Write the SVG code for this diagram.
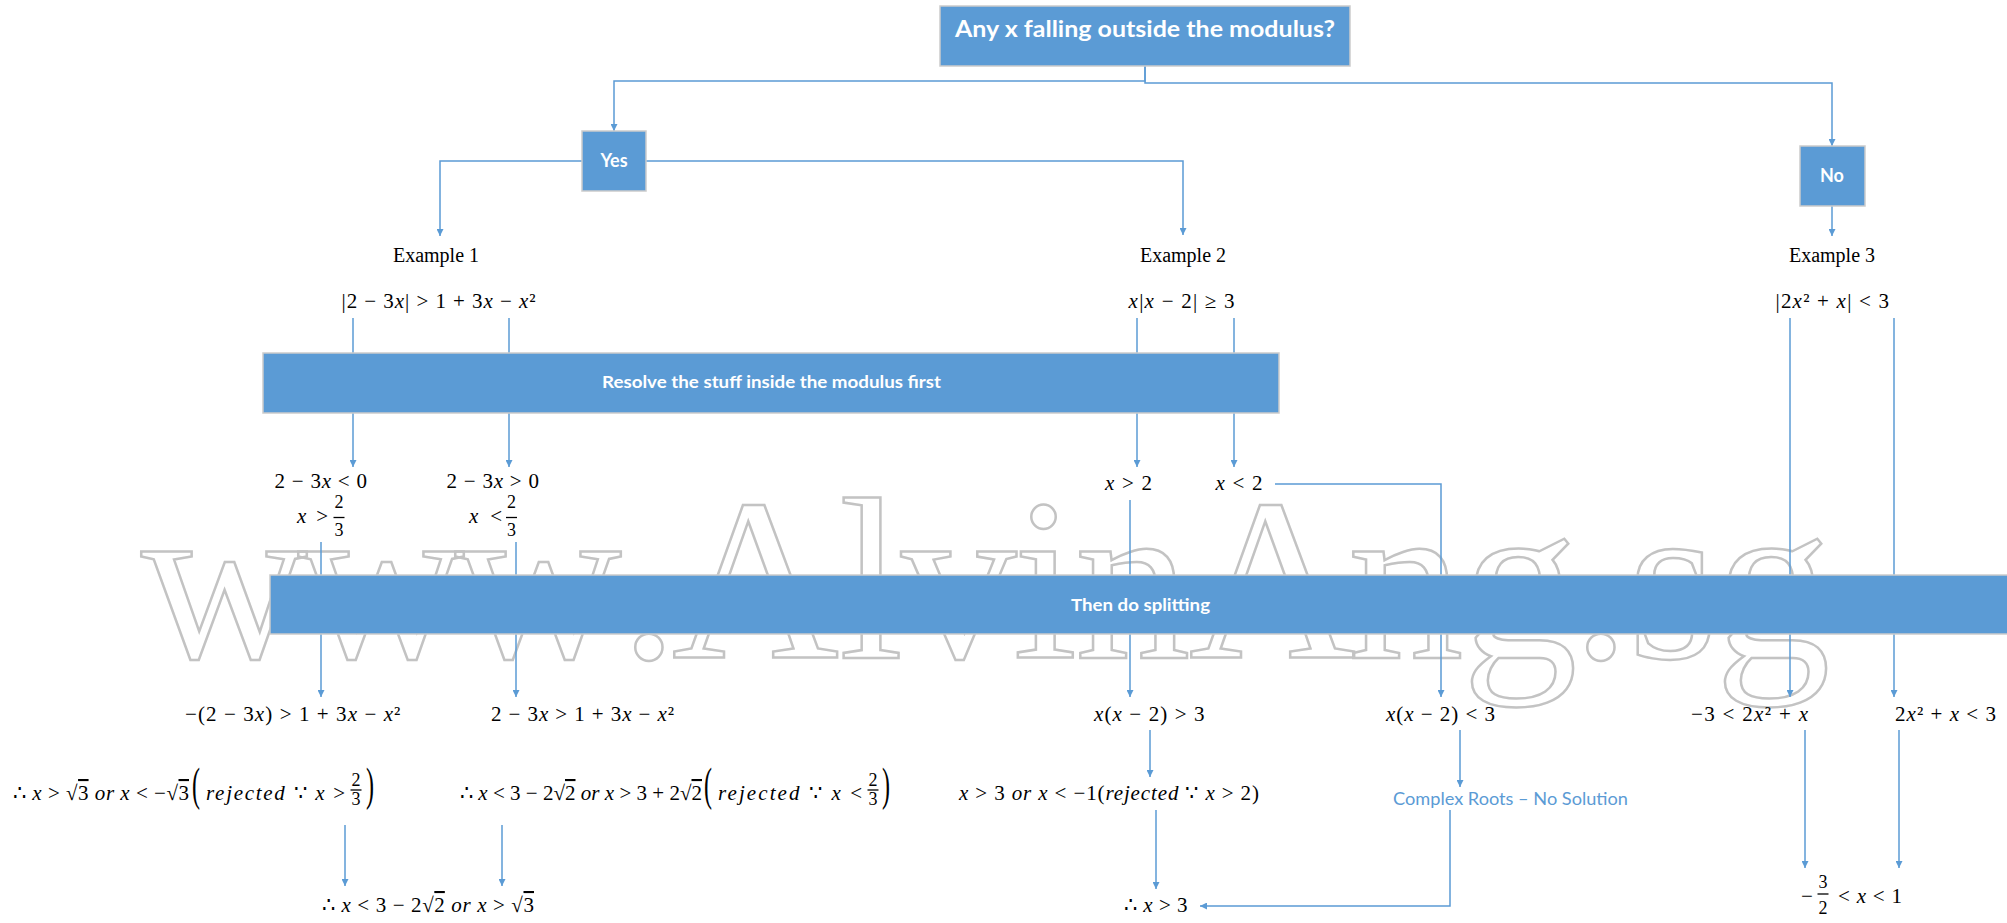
<svg xmlns="http://www.w3.org/2000/svg" width="2007" height="923" viewBox="0 0 2007 923">
<defs>
<style>
.m{font-family:"Liberation Serif","DejaVu Serif",serif;font-size:21px;fill:#000}
.i{font-style:italic}
.f{font-family:"Liberation Serif","DejaVu Serif",serif;font-size:18px;fill:#000;text-anchor:middle}
.fb{stroke:#000;stroke-width:1.3}
.ex{font-family:"Liberation Serif","DejaVu Serif",serif;font-size:20px;fill:#000;text-anchor:middle}
.box{fill:#5B9BD5;stroke:#CBCBCB;stroke-width:1.5}
.bt{font-family:Lato,"Open Sans","Liberation Sans",sans-serif;font-weight:bold;fill:#fff}
.c{fill:none;stroke:#5B9BD5;stroke-width:1.5}
.a{marker-end:url(#ah)}
.wm{font-family:"Liberation Serif","DejaVu Serif",serif;font-size:231px;fill:none;stroke:#C3C3C3;stroke-width:2.5}
.ov{text-decoration:overline}
.bp{font-family:"Liberation Serif","DejaVu Serif",serif;font-size:24px;fill:#000}
.blue{font-family:Lato,"Open Sans","Liberation Sans",sans-serif;font-size:18px;fill:#5B9BD5}
</style>
<marker id="ah" viewBox="0 0 8 8" refX="8" refY="4" markerWidth="7" markerHeight="7" markerUnits="userSpaceOnUse" orient="auto"><path d="M0,0 L8,4 L0,8 z" fill="#5B9BD5"/></marker>
</defs>
<rect x="0" y="0" width="2007" height="923" fill="#fff"/>

<g id="watermark">
<text class="wm" x="141 298 455 620 672 839 901 1013 1075 1189 1348 1462 1572 1628 1715" y="658">www.AlvinAng.sg</text>
</g>

<g id="connectors">
<path class="c a" d="M1145,66 V81 H614 V131"/>
<path class="c a" d="M1145,66 V83 H1832 V146"/>
<path class="c a" d="M582,161 H440 V236"/>
<path class="c a" d="M646,161 H1183 V235"/>
<path class="c a" d="M1832,206 V236"/>
<path class="c a" d="M353,318 V467"/>
<path class="c a" d="M509,318 V467"/>
<path class="c a" d="M1137,318 V467"/>
<path class="c a" d="M1234,318 V467"/>
<path class="c a" d="M1790,318 V697"/>
<path class="c a" d="M1894,318 V697"/>
<path class="c a" d="M321,542 V697"/>
<path class="c a" d="M516,542 V697"/>
<path class="c a" d="M1130,500 V697"/>
<path class="c a" d="M1275,484 H1441 V697"/>
<path class="c a" d="M345,825 V886"/>
<path class="c a" d="M502,825 V886"/>
<path class="c a" d="M1150,730 V777"/>
<path class="c a" d="M1156,810 V889"/>
<path class="c a" d="M1460,730 V787"/>
<path class="c a" d="M1450,810 V906 H1200"/>
<path class="c a" d="M1805,730 V868"/>
<path class="c a" d="M1899,730 V868"/>
</g>

<g id="n-question">
<rect class="box" x="940" y="6" width="410" height="60"/>
<text class="bt" x="955" y="37" font-size="23" textLength="380" lengthAdjust="spacingAndGlyphs">Any x falling outside the modulus?</text>
</g>
<g id="n-yes">
<rect class="box" x="582" y="131" width="64" height="60"/>
<text class="bt" x="614" y="167" font-size="18" text-anchor="middle">Yes</text>
</g>
<g id="n-no">
<rect class="box" x="1800" y="146" width="65" height="60"/>
<text class="bt" x="1832" y="182" font-size="18" text-anchor="middle">No</text>
</g>
<g id="n-resolve">
<rect class="box" x="263" y="353" width="1016" height="60"/>
<text class="bt" x="602" y="388" font-size="17" textLength="339" lengthAdjust="spacingAndGlyphs">Resolve the stuff inside the modulus first</text>
</g>
<g id="n-split">
<rect class="box" x="270" y="575" width="1745" height="59"/>
<text class="bt" x="1071" y="611" font-size="17" textLength="139" lengthAdjust="spacingAndGlyphs">Then do splitting</text>
</g>

<g id="n-ex1"><text class="ex" x="436" y="262">Example 1</text></g>
<g id="n-ex2"><text class="ex" x="1183" y="262">Example 2</text></g>
<g id="n-ex3"><text class="ex" x="1832" y="262">Example 3</text></g>

<g id="n-eq1"><text class="m" x="341.5" y="308" textLength="194">|2 − 3<tspan class="i">x</tspan>| &gt; 1 + 3<tspan class="i">x</tspan> − <tspan class="i">x</tspan>²</text></g>
<g id="n-eq2"><text class="m" x="1128.6" y="308" textLength="106"><tspan class="i">x</tspan>|<tspan class="i">x</tspan> − 2| ≥ 3</text></g>
<g id="n-eq3"><text class="m" x="1775.5" y="308" textLength="113.5">|2<tspan class="i">x</tspan>² + <tspan class="i">x</tspan>| &lt; 3</text></g>

<g id="n-case1a">
<text class="m" x="274.5" y="488" textLength="92.5">2 − 3<tspan class="i">x</tspan> &lt; 0</text>
<text class="m" x="297" y="523" textLength="31"><tspan class="i">x</tspan> &gt;</text>
<text class="f" x="339" y="508">2</text><line class="fb" x1="333.5" y1="517.5" x2="344.5" y2="517.5"/><text class="f" x="339" y="536">3</text>
</g>
<g id="n-case1b">
<text class="m" x="446.4" y="488" textLength="92.6">2 − 3<tspan class="i">x</tspan> &gt; 0</text>
<text class="m" x="469" y="523" textLength="33"><tspan class="i">x</tspan> &lt;</text>
<text class="f" x="511.6" y="508">2</text><line class="fb" x1="506" y1="517.5" x2="517" y2="517.5"/><text class="f" x="511.6" y="536">3</text>
</g>
<g id="n-case2a"><text class="m" x="1105" y="490" textLength="47"><tspan class="i">x</tspan> &gt; 2</text></g>
<g id="n-case2b"><text class="m" x="1215.6" y="490" textLength="47"><tspan class="i">x</tspan> &lt; 2</text></g>

<g id="n-split1a"><text class="m" x="185" y="721" textLength="215.4">−(2 − 3<tspan class="i">x</tspan>) &gt; 1 + 3<tspan class="i">x</tspan> − <tspan class="i">x</tspan>²</text></g>
<g id="n-split1b"><text class="m" x="491" y="721" textLength="183">2 − 3<tspan class="i">x</tspan> &gt; 1 + 3<tspan class="i">x</tspan> − <tspan class="i">x</tspan>²</text></g>
<g id="n-split2a"><text class="m" x="1094" y="721" textLength="110.5"><tspan class="i">x</tspan>(<tspan class="i">x</tspan> − 2) &gt; 3</text></g>
<g id="n-split2b"><text class="m" x="1386" y="721" textLength="109"><tspan class="i">x</tspan>(<tspan class="i">x</tspan> − 2) &lt; 3</text></g>
<g id="n-split3a"><text class="m" x="1691" y="721" textLength="117">−3 &lt; 2<tspan class="i">x</tspan>² + <tspan class="i">x</tspan></text></g>
<g id="n-split3b"><text class="m" x="1895" y="721" textLength="101">2<tspan class="i">x</tspan>² + <tspan class="i">x</tspan> &lt; 3</text></g>

<g id="n-sol1a">
<text class="m" x="13" y="800" textLength="176">∴ <tspan class="i">x</tspan> &gt; √<tspan class="ov">3</tspan> <tspan class="i">or</tspan> <tspan class="i">x</tspan> &lt; −√<tspan class="ov">3</tspan></text>
<text class="bp" transform="translate(192,800) scale(1,1.95)">(</text>
<text class="m" x="206" y="800" textLength="139"><tspan class="i">rejected</tspan> ∵ <tspan class="i">x</tspan> &gt;</text>
<text class="f" x="356" y="786">2</text><line class="fb" x1="350.5" y1="790" x2="361.5" y2="790"/><text class="f" x="356" y="805">3</text>
<text class="bp" transform="translate(366,800) scale(1,1.95)">)</text>
</g>
<g id="n-sol1b">
<text class="m" x="460" y="800" textLength="242">∴ <tspan class="i">x</tspan> &lt; 3 − 2√<tspan class="ov">2</tspan> <tspan class="i">or</tspan> <tspan class="i">x</tspan> &gt; 3 + 2√<tspan class="ov">2</tspan></text>
<text class="bp" transform="translate(704,800) scale(1,1.95)">(</text>
<text class="m" x="718" y="800" textLength="144"><tspan class="i">rejected</tspan> ∵ <tspan class="i">x</tspan> &lt;</text>
<text class="f" x="873" y="786">2</text><line class="fb" x1="867.5" y1="790" x2="878.5" y2="790"/><text class="f" x="873" y="805">3</text>
<text class="bp" transform="translate(882,800) scale(1,1.95)">)</text>
</g>
<g id="n-sol2a"><text class="m" x="959" y="800" textLength="300"><tspan class="i">x</tspan> &gt; 3 <tspan class="i">or</tspan> <tspan class="i">x</tspan> &lt; −1(<tspan class="i">rejected</tspan> ∵ <tspan class="i">x</tspan> &gt; 2)</text></g>
<g id="n-sol2b"><text class="blue" x="1393" y="805" textLength="235" lengthAdjust="spacingAndGlyphs">Complex Roots – No Solution</text></g>

<g id="n-final1"><text class="m" x="322" y="912" textLength="212">∴ <tspan class="i">x</tspan> &lt; 3 − 2√<tspan class="ov">2</tspan> <tspan class="i">or</tspan> <tspan class="i">x</tspan> &gt; √<tspan class="ov">3</tspan></text></g>
<g id="n-final2"><text class="m" x="1124" y="912" textLength="63.5">∴ <tspan class="i">x</tspan> &gt; 3</text></g>
<g id="n-final3">
<text class="m" x="1801" y="903">−</text>
<text class="f" x="1823" y="888">3</text><line class="fb" x1="1817.5" y1="894" x2="1828.5" y2="894"/><text class="f" x="1823" y="914">2</text>
<text class="m" x="1838" y="903" textLength="64">&lt; <tspan class="i">x</tspan> &lt; 1</text>
</g>
</svg>
